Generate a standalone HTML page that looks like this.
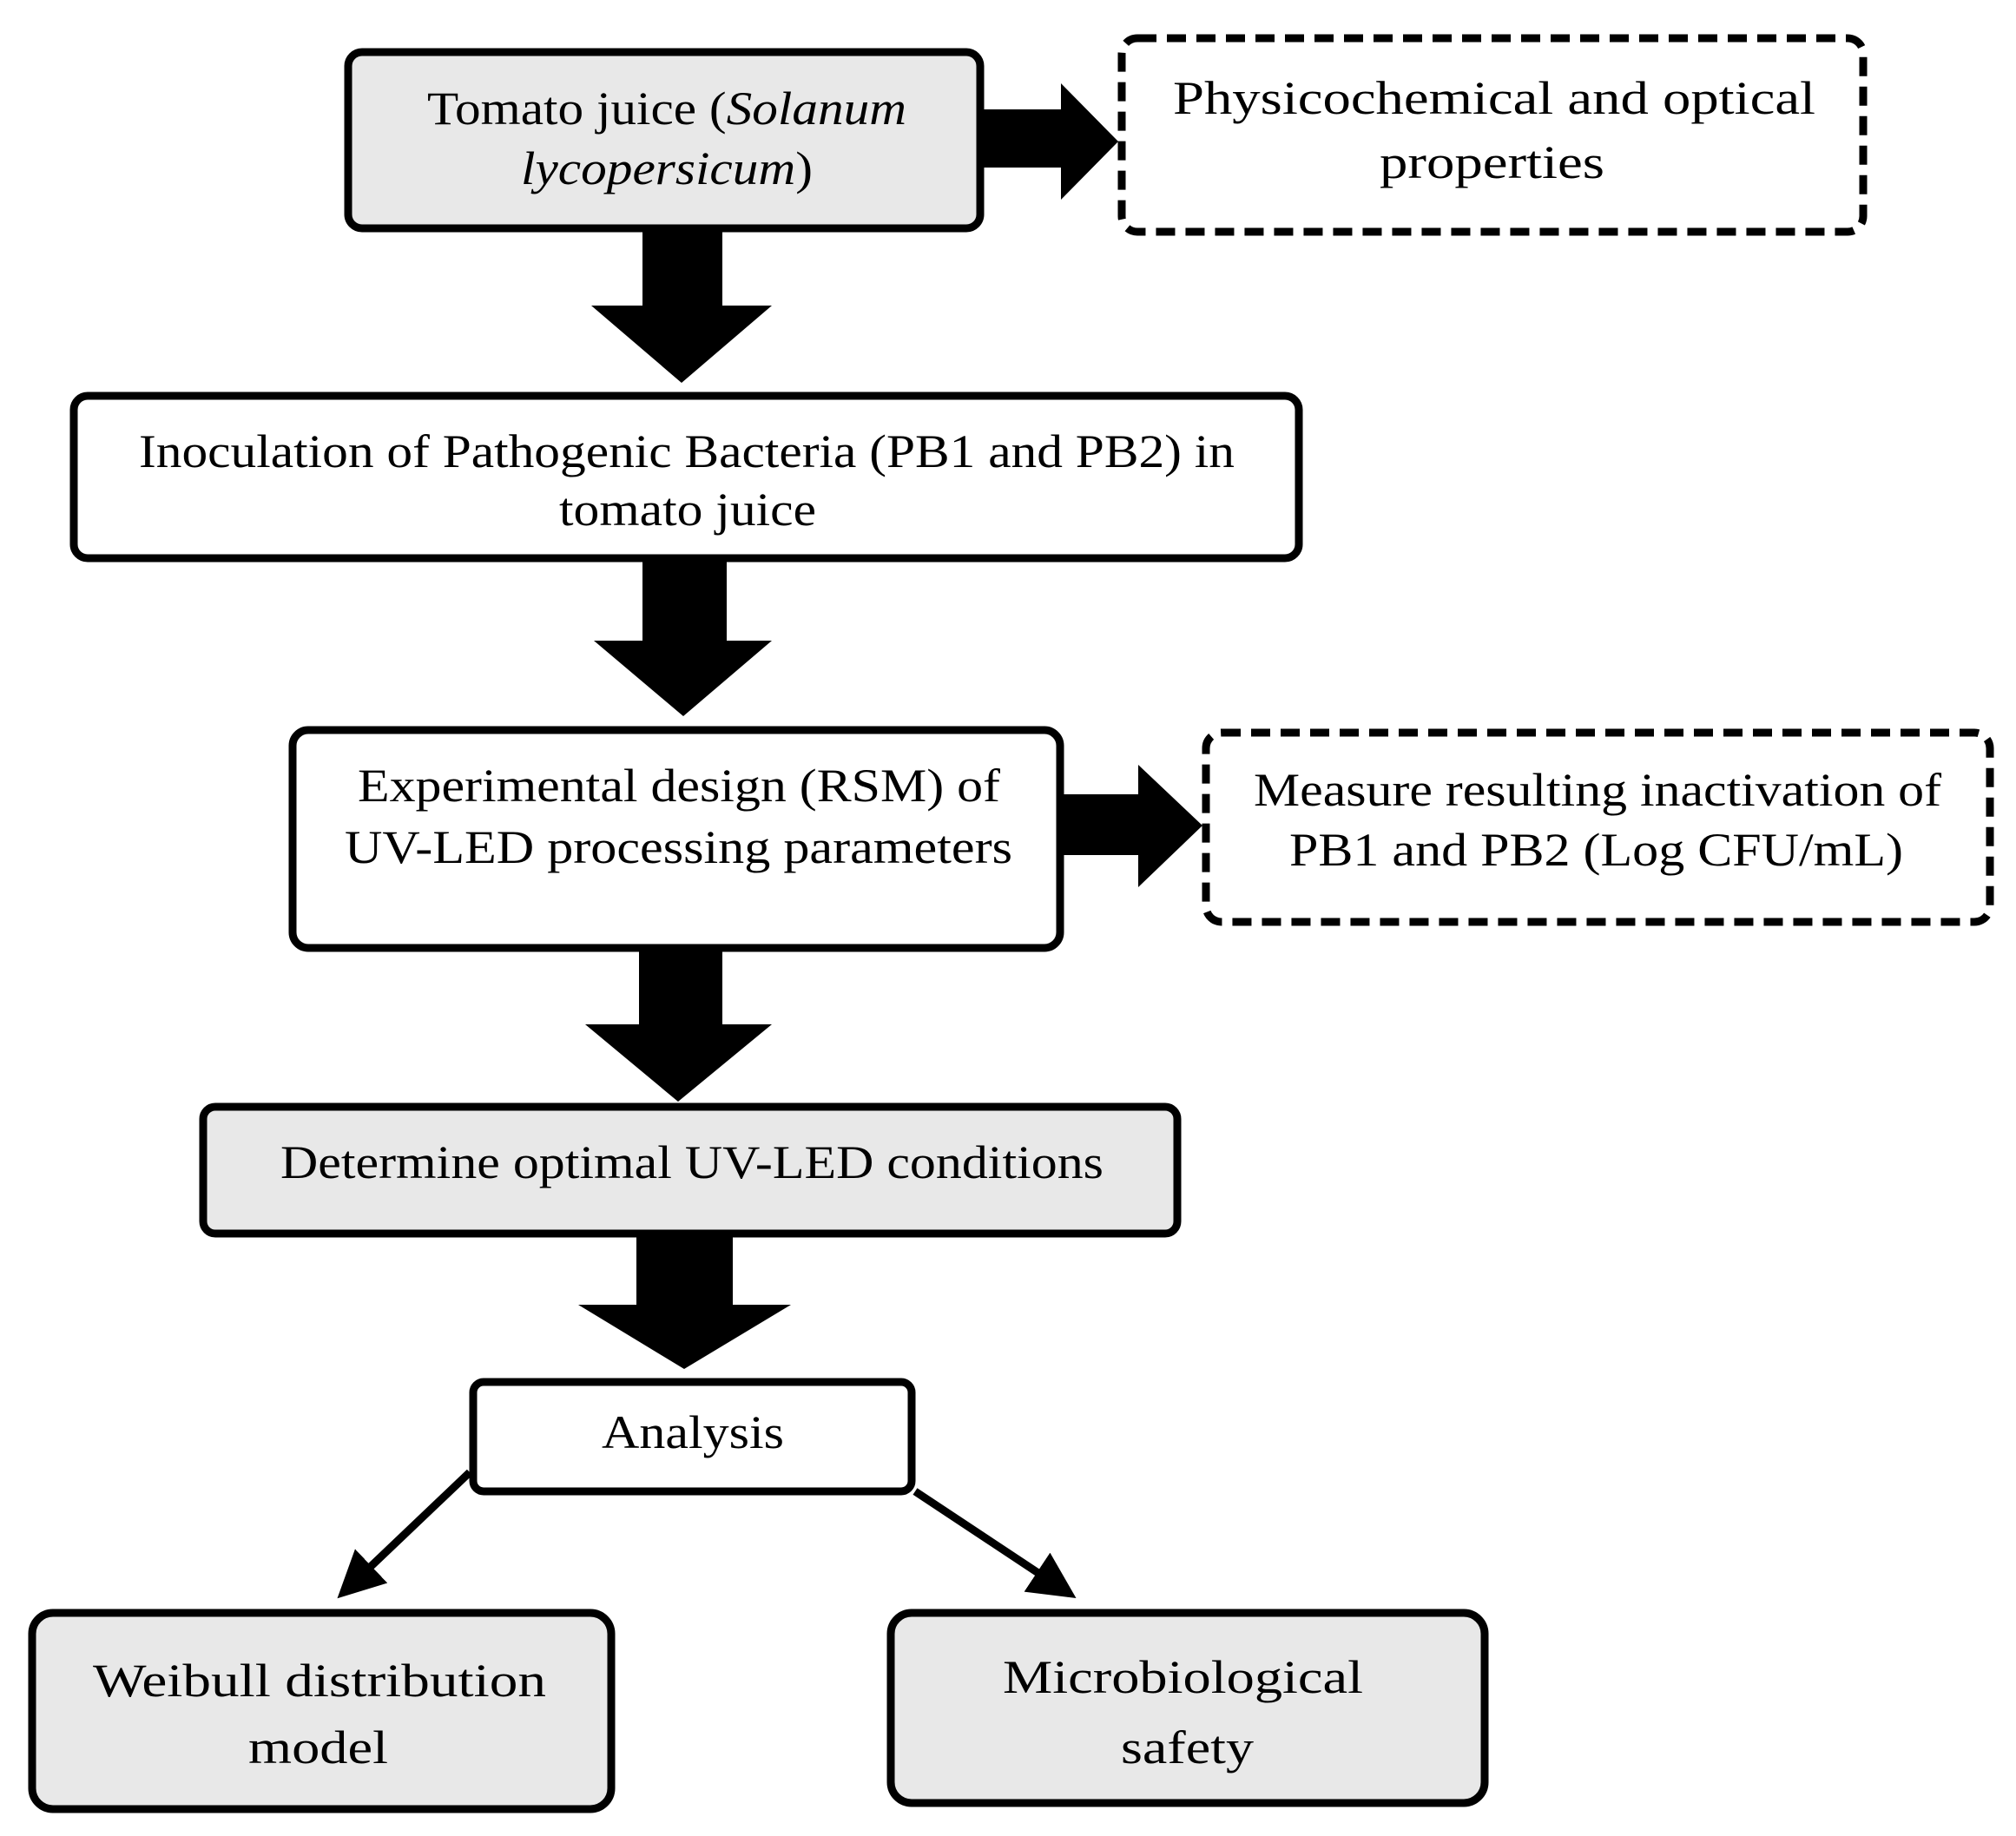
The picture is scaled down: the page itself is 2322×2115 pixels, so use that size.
<!DOCTYPE html>
<html><head><meta charset="utf-8"><style>
html,body{margin:0;padding:0;background:#fff;}
svg{display:block}
text{font-family:"Liberation Serif",serif;font-size:54px;fill:#000}
</style></head><body>
<svg width="2322" height="2115" viewBox="0 0 2322 2115" xmlns="http://www.w3.org/2000/svg">
<defs><marker id="ah" markerWidth="6" markerHeight="6" refX="5" refY="3" orient="auto" markerUnits="strokeWidth"><path d="M0,0 L6,3 L0,6 z" fill="#000"/></marker></defs>
<g stroke="#000" stroke-width="9" stroke-linejoin="round">
<rect x="401" y="60" width="728" height="203" rx="16" fill="#e8e8e8"/>
<rect x="1292" y="44" width="854" height="223" rx="18" fill="#fff" stroke-dasharray="22,12"/>
<rect x="85" y="456" width="1411" height="187" rx="16" fill="#fff"/>
<rect x="337" y="841" width="884" height="251" rx="18" fill="#fff"/>
<rect x="1389" y="844" width="903" height="218" rx="18" fill="#fff" stroke-dasharray="22,12"/>
<rect x="234" y="1275" width="1122" height="146" rx="14" fill="#e8e8e8"/>
<rect x="545" y="1592" width="505" height="126" rx="12" fill="#fff"/>
<rect x="37" y="1858" width="667" height="226" rx="24" fill="#e8e8e8"/>
<rect x="1026" y="1858" width="684" height="219" rx="24" fill="#e8e8e8"/>
</g>
<g fill="#000">
<polygon points="1133,126 1222,126 1222,96 1288,163 1222,230 1222,193 1133,193"/>
<polygon points="1225,915 1311,915 1311,881 1385,951 1311,1022 1311,985 1225,985"/>
<polygon points="740,267 832,267 832,352 889,352 785,441 681,352 740,352"/>
<polygon points="740,647 837,647 837,738 889,738 787,825 684,738 740,738"/>
<polygon points="736,1096 832,1096 832,1180 889,1180 781,1269 674,1180 736,1180"/>
<polygon points="733,1425 844,1425 844,1503 911,1503 788,1577 666,1503 733,1503"/>
</g>
<g stroke="#000" stroke-width="9" fill="none">
<line x1="541" y1="1696" x2="395" y2="1835" marker-end="url(#ah)"/>
<line x1="1054" y1="1718" x2="1232" y2="1836" marker-end="url(#ah)"/>
</g>
<g>
<text x="492" y="143" textLength="552" lengthAdjust="spacingAndGlyphs">Tomato juice (<tspan font-style="italic">Solanum</tspan></text>
<text x="600" y="212" textLength="336" lengthAdjust="spacingAndGlyphs"><tspan font-style="italic">lycopersicum</tspan>)</text>
<text x="1351" y="131" textLength="740" lengthAdjust="spacingAndGlyphs">Physicochemical and optical</text>
<text x="1589" y="205" textLength="259" lengthAdjust="spacingAndGlyphs">properties</text>
<text x="160" y="538" textLength="1262" lengthAdjust="spacingAndGlyphs">Inoculation of Pathogenic Bacteria (PB1 and PB2) in</text>
<text x="644" y="605" textLength="296" lengthAdjust="spacingAndGlyphs">tomato juice</text>
<text x="412" y="923" textLength="740" lengthAdjust="spacingAndGlyphs">Experimental design (RSM) of</text>
<text x="397" y="994" textLength="769" lengthAdjust="spacingAndGlyphs">UV-LED processing parameters</text>
<text x="1444" y="928" textLength="792" lengthAdjust="spacingAndGlyphs">Measure resulting inactivation of</text>
<text x="1485" y="997" textLength="707" lengthAdjust="spacingAndGlyphs">PB1 and PB2 (Log CFU/mL)</text>
<text x="323" y="1357" textLength="948" lengthAdjust="spacingAndGlyphs">Determine optimal UV-LED conditions</text>
<text x="693" y="1668" textLength="210" lengthAdjust="spacingAndGlyphs">Analysis</text>
<text x="107" y="1954" textLength="522" lengthAdjust="spacingAndGlyphs">Weibull distribution</text>
<text x="286" y="2031" textLength="161" lengthAdjust="spacingAndGlyphs">model</text>
<text x="1155" y="1950" textLength="415" lengthAdjust="spacingAndGlyphs">Microbiological</text>
<text x="1291" y="2031" textLength="153" lengthAdjust="spacingAndGlyphs">safety</text>
</g>
</svg>
</body></html>
